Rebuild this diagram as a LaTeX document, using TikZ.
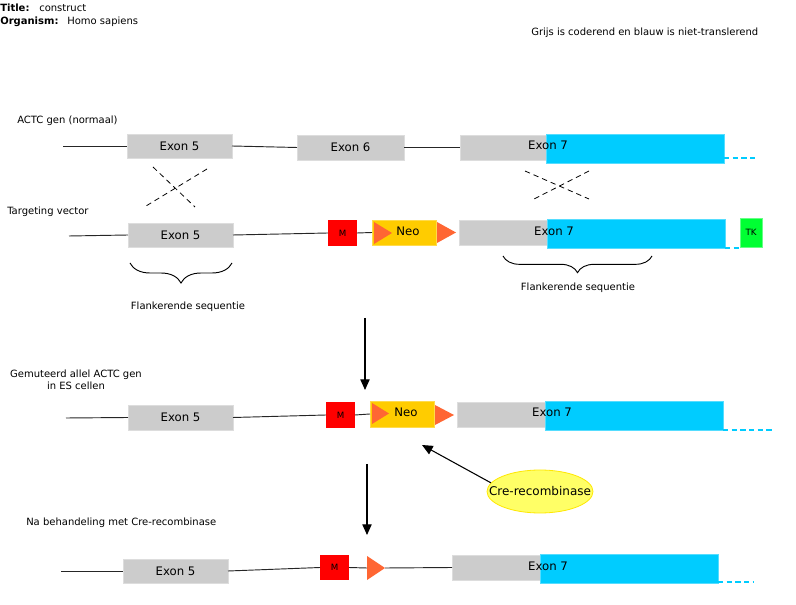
\documentclass[tikz,border=0pt]{standalone}
\usepackage{fontspec}
\setmainfont{DejaVu Sans}
\usetikzlibrary{arrows.meta,shapes.geometric,decorations.pathreplacing}
\definecolor{exgray}{HTML}{CCCCCC}
\definecolor{exedge}{HTML}{DDDDDD}
\definecolor{utrcyan}{HTML}{00CCFF}
\definecolor{utredge}{HTML}{55DDFF}
\definecolor{neoyel}{HTML}{FFCC00}
\definecolor{loxor}{HTML}{FF6633}
\definecolor{tkgreen}{HTML}{00FF33}
\definecolor{creyel}{HTML}{FFFF66}
\newcommand\gbox[7]{\node[#6,minimum width={(#4-#2)*0.75pt},minimum height={(#5-#3)*0.75pt}] (#1) at ({(#2+#4)/2},{(#3+#5)/2}) {#7};}
\newcommand\loxtri[4]{\fill[lox] (#1,#2) -- (#1,#3) -- (#4,{(#2+#3)/2}) -- cycle;}
\tikzset{
  base/.style={inner sep=0pt,outer sep=0pt},
  exon/.style={base,fill=exgray,draw=exedge,line width=0.6pt,font=\fontsize{8.8}{10}\selectfont},
  utr/.style={base,fill=utrcyan,draw=utredge,line width=0.6pt},
  mbox/.style={base,fill=red,font=\fontsize{6.5}{8}\selectfont},
  neobox/.style={base,fill=neoyel,draw=neoyel!70!white,line width=0.6pt},
  tkbox/.style={base,fill=tkgreen,draw=tkgreen!60!white,line width=0.6pt,font=\fontsize{6.5}{8}\selectfont},
  lox/.style={fill=loxor},
  big/.style={inner sep=0pt,font=\fontsize{8.8}{10}\selectfont},
  small/.style={inner sep=0pt,font=\fontsize{7.5}{9}\selectfont},
  dna/.style={draw=black!85,line width=0.7pt},
  utrdash/.style={draw=utrcyan,line width=0.8pt,dash pattern=on 4pt off 2.5pt},
  cross/.style={draw=black,line width=0.6pt,dash pattern=on 4pt off 3pt},
  brc/.style={draw=black,line width=0.7pt,decorate,decoration={brace,mirror,amplitude=#1}},
  arr/.style={draw=black,line width=0.8pt,-{Triangle[length=8pt,width=7pt]}},
}
\begin{document}
\begin{tikzpicture}[x=0.75pt,y=-0.75pt]
\useasboundingbox (0,0) rectangle (796,605);
% header
\node[small,anchor=west,font=\fontsize{7.5}{9}\selectfont\bfseries] (tt) at (0,8) {Title:};
\node[small,anchor=west] (tv) at (39,8) {construct};
\node[small,anchor=west,font=\fontsize{7.5}{9}\selectfont\bfseries] (ot) at (0,22) {Organism:};
\node[small,anchor=west] (ov) at (67,22) {Homo sapiens};
\node[small,anchor=west] (leg) at (531,33) {Grijs is coderend en blauw is niet-translerend};

% row 1
\node[small,anchor=west] (r1) at (17,121) {ACTC gen (normaal)};
\coordinate (a0) at (63,146);
\gbox{a5}{127}{134}{232}{158}{exon}{Exon 5}
\gbox{a6}{297}{135}{404}{160}{exon}{Exon 6}
\gbox{a7g}{460}{135}{548}{160}{exon}{}
\gbox{a7c}{546}{134}{724}{163}{utr}{}
\node[big] (a7t) at (548,145) {Exon 7};
\coordinate (ad) at (755,158);
\draw[dna] (a0) -- (a5.west);
\draw[dna] (a5.east) -- (a6.west);
\draw[dna] (a6.east) -- (a7g.west);
\draw[utrdash] (a7c.east |- ad) -- (ad);
\draw[cross] (153,167) -- (195,207);
\draw[cross] (207,169) -- (146,206);
\draw[cross] (525,171) -- (589,199);
\draw[cross] (589,171) -- (534,199);

% row 2
\node[small,anchor=west] (r2) at (7,212) {Targeting vector};
\coordinate (b0) at (69,236);
\gbox{b5}{128}{223}{233}{247}{exon}{Exon 5}
\gbox{bm}{328}{220}{357}{246}{mbox}{M}
\gbox{bn}{372}{220}{436}{245}{neobox}{}
\loxtri{374}{222}{244}{392}
\node[big] (bnt) at (408,231) {Neo};
\loxtri{437}{222}{243}{456}
\gbox{b7g}{459}{220}{548}{245}{exon}{}
\gbox{b7c}{547}{219}{725}{248}{utr}{}
\node[big] (b7t) at (554,231) {Exon 7};
\gbox{btk}{740}{218}{762}{247}{tkbox}{TK}
\draw[dna] (b0) -- (b5.west);
\draw[dna] (b5.east) -- (bm.west);
\draw[dna] (bm.east) -- (bn.west);
\draw[utrdash] (b7c.south east) -- (btk.west |- b7c.south east);
\draw[brc=15pt] (130,263) -- (232,263);
\node[small] (f1) at (188,307) {Flankerende sequentie};
\draw[brc=12.5pt] (503,256) -- (652,256);
\node[small] (f2) at (578,288) {Flankerende sequentie};

\coordinate (ar1s) at (365,318);
\coordinate (ar1e) at (365,390);
\draw[arr] (ar1s) -- (ar1e);

% row 3
\node[small,align=center] (r3) at (76,380) {Gemuteerd allel ACTC gen\\in ES cellen};
\coordinate (c0) at (66,418);
\gbox{c5}{128}{405}{233}{430}{exon}{Exon 5}
\gbox{cm}{326}{402}{355}{428}{mbox}{M}
\gbox{cn}{370}{401}{434}{427}{neobox}{}
\loxtri{372}{403}{424}{389}
\node[big] (cnt) at (406,412) {Neo};
\loxtri{435}{405}{425}{454}
\gbox{c7g}{457}{402}{545}{427}{exon}{}
\gbox{c7c}{545}{401}{723}{430}{utr}{}
\node[big] (c7t) at (552,412) {Exon 7};
\coordinate (cd) at (774,430);
\draw[dna] (c0) -- (c5.west);
\draw[dna] (c5.east) -- (cm.west);
\draw[dna] (cm.east) -- (cn.west);
\draw[utrdash] (c7c.east |- cd) -- (cd);

\node[ellipse,draw=yellow!90!orange,fill=creyel,line width=0.6pt,inner sep=0pt,
      minimum width={106*0.75pt},minimum height={43*0.75pt},font=\fontsize{9}{10}\selectfont] (cre) at (540,491.5) {\makebox[0pt]{Cre-recombinase}};
\coordinate (cret) at (422,445);
\draw[arr] (cre.170) -- (cret);

\coordinate (ar2s) at (367,464);
\coordinate (ar2e) at (367,535);
\draw[arr] (ar2s) -- (ar2e);

% row 4
\node[small,anchor=west] (r4) at (26,523) {Na behandeling met Cre-recombinase};
\coordinate (d0) at (61,571);
\gbox{d5}{123}{559}{228}{583}{exon}{Exon 5}
\gbox{dm}{320}{555}{349}{580}{mbox}{M}
\coordinate (dT) at (367,568);
\coordinate (dA) at (385,568);
\loxtri{367}{556}{580}{385}
\gbox{d7g}{452}{555}{541}{580}{exon}{}
\gbox{d7c}{540}{554}{718}{583}{utr}{}
\node[big] (d7t) at (548,566) {Exon 7};
\coordinate (dd) at (754,582);
\draw[dna] (d0) -- (d5.west);
\draw[dna] (d5.east) -- (dm.west);
\draw[dna] (dm.east) -- (dT);
\draw[dna] (dA) -- (d7g.west);
\draw[utrdash] (d7c.east |- dd) -- (dd);
\end{tikzpicture}
\end{document}
